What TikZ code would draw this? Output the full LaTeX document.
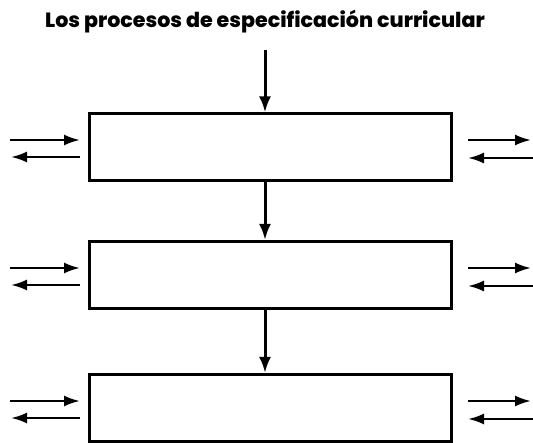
\documentclass[tikz,border=0pt]{standalone}
\usepackage{fontspec}
\setmainfont{Poppins}[BoldFont={Poppins ExtraBold}]
\usetikzlibrary{arrows.meta}
\begin{document}
\begin{tikzpicture}[x=1pt,y=-1pt,
  box/.style={draw,line width=3pt,minimum width=362pt,minimum height=67pt,inner sep=0pt},
  arr/.style={line width=3pt,-{Latex[length=16pt,width=12pt]}},
  side/.style={line width=2.4pt,-{Latex[length=16pt,width=11pt]}}]
\useasboundingbox (0,0) rectangle (533,443);
\node[font=\bfseries\fontsize{20.6}{24}\selectfont] (title) at (265,22) {Los procesos de especificación curricular};
\coordinate (top) at (265,50);
\node[box] (b1) at (270,147.5) {};
\node[box] (b2) at (270,275) {};
\node[box] (b3) at (270,408) {};
\draw[arr] (top) -- (b1.north -| top);
\draw[arr] (b1.south -| top) -- (b2.north -| top);
\draw[arr] (b2.south -| top) -- (b3.north -| top);
\foreach \b/\y in {b1/140,b2/268,b3/401}{
  \coordinate (\b l1) at (10,\y);
  \coordinate (\b l2) at (80,\y);
  \coordinate (\b l3) at (80,\y+17);
  \coordinate (\b l4) at (11,\y+17);
  \coordinate (\b r1) at (468,\y);
  \coordinate (\b r2) at (531,\y);
  \coordinate (\b r3) at (533,\y+18);
  \coordinate (\b r4) at (468,\y+18);
  \draw[side] (\b l1) -- (\b l2);
  \draw[side] (\b l3) -- (\b l4);
  \draw[side] (\b r1) -- (\b r2);
  \draw[side] (\b r3) -- (\b r4);
}
\end{tikzpicture}
\end{document}
